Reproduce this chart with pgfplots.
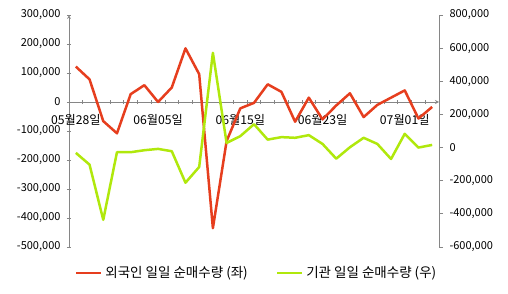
\documentclass[border=0pt]{standalone}
\usepackage{pgfplots}
\usepackage{pgfplotstable}
\pgfplotsset{compat=1.18}
\usepackage{fontspec}
\setmainfont{Noto Sans CJK KR}
\definecolor{fred}{RGB}{230,62,30}
\definecolor{fgreen}{RGB}{176,232,12}
\definecolor{axgray}{RGB}{134,134,134}

\pgfplotstableread{
idx red green
0 122000 -32000
1 78000 -103000
2 -66000 -436000
3 -108000 -28000
4 27000 -28000
5 58000 -16000
6 0 -8000
7 50000 -22000
8 185000 -212000
9 96000 -117000
10 -435000 572000
11 -135000 28000
12 -22000 69000
13 -3000 141000
14 61000 48000
15 35000 63000
16 -68000 59000
17 15000 75000
18 -60000 22000
19 -12000 -67000
20 30000 2000
21 -52000 59000
22 -10000 22000
23 15000 -69000
24 40000 83000
25 -57000 0
26 -17000 16000
}\datatable

\begin{document}
\begin{tikzpicture}
\pgfplotsset{
  common/.style={
    scale only axis, width=370pt, height=232pt,
    xmin=-0.5, xmax=26.5, clip=false,
    scaled y ticks=false,
    tick align=outside,
    major tick length=4pt, minor tick length=4pt,
    axis line style={axgray, line width=0.8pt, -},
    every tick/.style={axgray, line width=0.8pt},
  }
}
\begin{axis}[common, name=a,
  axis x line=middle, axis y line=left,
  hide obscured x ticks=false, hide obscured y ticks=false,
  ymin=-500000, ymax=300000,
  ytick={-500000,-400000,-300000,-200000,-100000,0,100000,200000,300000},
  yticklabels={{-500,000},{-400,000},{-300,000},{-200,000},{-100,000},{0},{100,000},{200,000},{300,000}},
  yticklabel style={font=\fontsize{11}{13}\selectfont, xshift=-3pt},
  xtick={0,6,12,18,24},
  xticklabels={05월28일,06월05일,06월15일,06월23일,07월01일},
  major x tick style={draw=none},
  minor xtick={-0.5,0.5,...,26.5},
  xticklabel style={font=\fontsize{12.2}{14}\selectfont, yshift=-7pt},
]
\addplot[fred, line width=2.5pt, line join=round] table[x=idx, y=red] {\datatable};
\end{axis}
\begin{axis}[common,
  axis x line=none, axis y line*=right,
  ymin=-600000, ymax=800000,
  ytick={-600000,-400000,-200000,0,200000,400000,600000,800000},
  yticklabels={{-600,000},{-400,000},{-200,000},{0},{200,000},{400,000},{600,000},{800,000}},
  yticklabel style={font=\fontsize{11}{13}\selectfont, xshift=3pt},
  legend columns=2,
  legend style={draw=none, fill=none, at={(0.507,-0.112)}, anchor=center,
    font=\fontsize{13.5}{15}\selectfont,
    /tikz/every even column/.append style={column sep=26pt},
    /tikz/every odd column/.append style={column sep=1pt}},
  legend image code/.code={\draw[#1] (0pt,0pt) -- (25pt,0pt);},
]
\addlegendimage{fred, line width=2.5pt}
\addlegendentry{외국인 일일 순매수량 (좌)}
\addplot[fgreen, line width=2.5pt, line join=round] table[x=idx, y=green] {\datatable};
\addlegendentry{기관 일일 순매수량 (우)}
\end{axis}
\pgfresetboundingbox
\path[use as bounding box] ([shift={(-69pt,-47pt)}]a.south west) rectangle ++(508pt,294pt);
\end{tikzpicture}
\end{document}
